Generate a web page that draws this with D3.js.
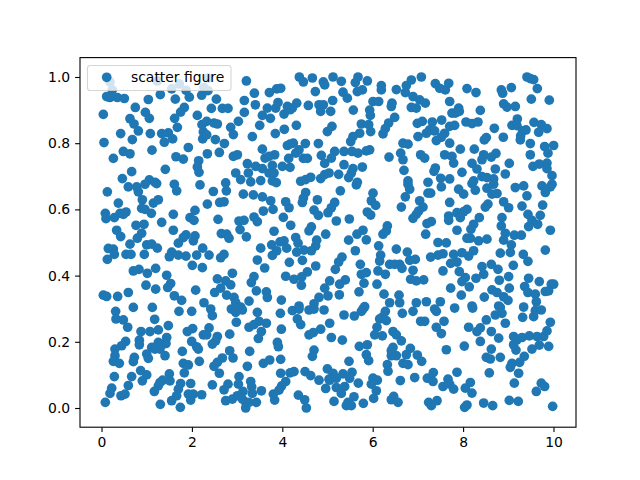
<!DOCTYPE html>
<html><head><meta charset="utf-8">
<script src="https://cdn.jsdelivr.net/npm/d3@7"></script>
<style>html,body{margin:0;padding:0;background:#fff}svg{display:block}</style>
</head><body><div id="chart"></div>
<script>
const legendLabel = "scatter figure";
const xTicks = [0,2,4,6,8,10];
const yTicks = [0,0.2,0.4,0.6,0.8,1.0];
const xDomain = [-0.476,10.498];
const yDomain = [-0.058,1.0586];
const topBand = [[.188,.985],[.239,.961],[1.235,.988],[1.722,.979],[1.552,.964],[1.869,.960],[2.267,.968],[.114,.941],[.188,.938],[.350,.938],[.505,.935],[1.036,.932],[1.301,.947],[1.633,.933],[1.943,.939],[2.216,.945],[.748,.908],[.970,.893],[1.058,.875],[.040,.887],[1.832,.908],[1.751,.894],[1.618,.875],[2.120,.884],[.630,.874],[.719,.858],[.815,.837],[.424,.829],[1.080,.829],[.682,.811],[1.331,.829],[1.478,.831],[1.574,.813],[1.390,.803],[1.678,.848],[2.223,.856],[2.253,.834],[2.238,.813],[.055,.802],[1.921,.787],[1.117,.779],[.483,.775],[.630,.768],[.262,.754],[1.648,.759],[1.810,.752],[2.150,.747],[2.120,.728],[2.157,.712],[1.412,.721],[.667,.714],[.461,.693],[1.058,.689],[1.183,.682],
[2.356,.997],[2.356,.959],[3.205,.988],[4.377,1.000],[4.466,.985],[4.665,.997],[4.908,.985],[4.938,.976],[4.731,.956],[3.382,.951],[3.714,.953],[3.876,.964],[3.964,.966],[2.541,.933],[3.160,.929],[3.404,.916],[3.905,.923],[3.669,.906],[3.854,.906],[3.559,.884],[3.736,.875],[4.038,.888],[4.112,.911],[4.222,.906],[4.318,.921],[4.171,.901],[2.430,.905],[2.674,.905],[2.799,.905],[3.160,.893],[4.576,.914],[4.812,.916],[4.908,.916],[4.849,.896],[3.028,.866],[2.327,.866],[2.489,.861],[2.563,.858],[2.858,.848],[2.917,.826],[3.500,.854],[3.846,.829],[4.045,.842],[4.311,.854],[3.337,.820],[4.997,.835],[2.327,.825],[2.519,.811],[2.718,.799],[4.171,.797],[4.112,.793],[4.244,.800],[4.510,.799],[4.798,.799],[3.559,.782],[4.370,.780],[4.296,.770],[2.342,.768],[2.607,.772],[2.917,.760],[3.006,.765],[3.831,.765],[3.618,.755],[3.706,.760],[4.864,.763],[4.466,.754],[4.554,.754],[4.141,.754],[3.227,.738],[3.411,.730],[3.559,.723],[3.780,.733],[4.001,.730],[4.171,.727],[4.938,.739],[2.969,.710],[3.249,.710],[3.706,.710],[3.817,.710],[3.079,.690],[2.747,.680],[3.301,.683],[3.522,.687],[3.780,.686],[4.407,.685],[4.517,.690],[4.628,.697],[4.849,.693],[4.938,.705],[5.034,.710],
[5.122,1.000],[5.306,.987],[5.675,1.000],[5.616,.983],[5.881,.988],[5.660,.956],[5.771,.961],[6.191,.974],[6.191,.961],[6.523,.962],[6.744,.974],[6.855,.991],[7.076,1.000],[7.386,.980],[7.482,.966],[7.607,.961],[7.681,.981],[6.722,.953],[5.343,.954],[5.439,.936],[5.114,.929],[6.892,.941],[7.039,.931],[7.164,.921],[7.703,.926],[6.007,.926],[6.132,.926],[6.427,.921],[6.412,.911],[6.855,.908],[6.965,.906],[5.070,.896],[5.571,.900],[5.933,.900],[5.948,.884],[7.754,.891],[6.486,.878],[6.353,.861],[6.279,.844],[6.228,.828],[6.987,.860],[7.098,.866],[7.319,.864],[7.526,.870],[5.099,.851],[5.749,.858],[5.911,.856],[5.955,.835],[5.712,.830],[5.564,.820],[5.513,.805],[7.260,.840],[7.371,.837],[7.002,.820],[7.187,.830],[7.592,.830],[7.519,.818],[7.408,.808],[7.703,.851],[6.670,.800],[6.781,.797],[7.703,.800],[7.061,.765],[7.150,.755],[6.619,.770],[6.670,.750],[6.361,.758],[5.159,.775],[5.085,.755],[5.365,.775],[5.542,.775],[5.675,.770],[5.859,.777],[5.933,.780],[7.592,.765],[7.754,.760],[5.365,.735],[5.564,.723],[5.771,.728],[5.468,.696],[5.247,.706],[6.692,.718],[7.386,.725],[7.356,.715],[6.781,.686],[7.504,.694],[7.703,.692],[5.660,.682],[7.224,.682],[5.527,.710],
[8.086,.965],[8.285,.953],[8.846,.961],[8.875,.951],[9.067,.968],[9.413,1.000],[9.487,.995],[9.561,.992],[9.642,.965],[9.509,.933],[9.907,.930],[8.897,.919],[8.971,.909],[9.155,.911],[7.902,.906],[7.828,.891],[7.916,.896],[8.381,.899],[9.200,.873],[9.082,.854],[9.192,.853],[9.317,.837],[9.391,.840],[9.273,.822],[9.266,.810],[8.064,.864],[8.197,.859],[8.329,.864],[7.813,.854],[8.691,.845],[8.514,.817],[8.469,.810],[8.890,.818],[9.568,.863],[9.730,.856],[9.856,.844],[9.672,.833],[9.487,.799],[9.804,.790],[10.003,.793],[7.938,.782],[8.248,.782],[9.487,.765],[9.878,.770],[8.455,.765],[8.418,.750],[8.624,.758],[8.727,.769],[7.791,.740],[9.022,.739],[8.197,.739],[8.307,.722],[8.713,.722],[9.546,.730],[9.686,.737],[9.856,.740],[9.856,.723],[9.967,.702],[7.975,.712],[8.934,.707],[8.418,.699],[8.528,.696],[8.676,.692],[8.233,.686]];
const middleBand = [[.593,.668],[.778,.668],[.815,.653],[.962,.676],[1.220,.678],[1.611,.676],[1.663,.656],[2.179,.674],[.129,.653],[.372,.619],[.903,.629],[1.147,.619],[1.257,.629],[.888,.603],[.962,.600],[1.102,.588],[1.589,.585],[2.068,.597],[1.958,.575],[2.046,.567],[.084,.588],[.099,.572],[.284,.575],[.409,.588],[.542,.592],[.483,.585],[1.331,.561],[.763,.552],[.940,.555],[.335,.537],[.424,.518],[1.589,.537],[.888,.528],[.793,.513],[1.869,.523],[2.068,.520],[2.032,.505],[1.810,.515],[1.700,.498],[.630,.495],[1.000,.493],[1.110,.495],[1.235,.483],[.151,.482],[.262,.480],[.284,.464],[.129,.449],[.542,.464],[.652,.464],[.947,.464],[1.552,.471],[1.501,.457],[1.700,.462],[1.869,.459],[2.105,.462],[2.238,.483],[2.009,.431],[2.231,.424],[.704,.414],[.829,.419],[1.014,.407],[1.198,.422],[1.442,.401],[1.530,.376],[1.464,.364],[.984,.371],[1.198,.359],[2.083,.356],[.593,.349],[.040,.341],[.114,.337],[.357,.337],[1.611,.339],[1.773,.325],[2.267,.318],
[2.762,.656],[2.474,.654],[3.138,.646],[3.359,.644],[3.559,.638],[3.743,.626],[3.795,.600],[3.581,.595],[4.075,.623],[4.149,.605],[4.517,.651],[4.466,.634],[4.444,.621],[4.776,.629],[4.702,.598],[4.798,.582],[2.342,.616],[2.615,.621],[2.711,.623],[4.023,.576],[4.186,.552],[2.578,.570],[3.042,.565],[3.153,.567],[3.374,.577],[3.448,.563],[3.065,.539],[3.817,.534],[4.643,.547],[4.591,.535],[4.960,.525],[2.651,.527],[2.770,.525],[2.821,.513],[3.205,.517],[4.296,.515],[4.348,.498],[4.038,.505],[3.950,.502],[3.765,.493],[4.761,.507],[4.739,.490],[4.643,.475],[4.480,.477],[4.318,.471],[3.522,.483],[3.876,.475],[3.780,.461],[4.097,.483],[2.379,.462],[2.710,.464],[2.637,.454],[3.448,.447],[3.610,.423],[4.444,.446],[4.156,.440],[4.739,.429],[2.895,.407],[4.554,.411],[4.075,.398],[4.259,.389],[4.429,.396],[4.422,.371],[3.374,.397],[3.315,.379],[2.563,.390],[2.747,.384],[2.858,.372],[2.637,.362],[2.504,.349],[3.426,.354],[3.647,.351],[3.669,.334],[2.769,.341],[2.932,.334],[2.969,.318],[3.264,.323],[3.979,.326],[4.938,.362],[5.011,.339],[4.812,.334],[4.702,.315],[4.370,.308],[3.079,.305],[3.868,.681],
[5.638,.674],[5.284,.656],[6.781,.676],[6.818,.661],[6.722,.638],[6.634,.607],[7.519,.668],[7.282,.649],[7.223,.649],[6.007,.649],[5.970,.626],[6.066,.612],[5.881,.592],[5.955,.583],[7.039,.626],[7.113,.607],[7.017,.595],[6.965,.585],[6.892,.573],[7.703,.621],[7.681,.580],[7.681,.567],[5.159,.621],[5.085,.605],[5.011,.590],[5.195,.565],[5.483,.571],[7.297,.563],[7.201,.557],[6.324,.550],[6.302,.535],[6.228,.525],[7.172,.525],[5.785,.537],[5.653,.525],[5.468,.507],[5.859,.508],[7.445,.500],[7.629,.499],[6.132,.490],[6.523,.480],[5.616,.475],[6.766,.471],[6.176,.462],[6.154,.444],[5.321,.456],[5.247,.441],[5.173,.419],[5.726,.434],[6.943,.449],[6.818,.446],[6.375,.434],[6.486,.434],[6.597,.434],[6.648,.422],[6.892,.416],[5.749,.404],[5.859,.409],[6.117,.414],[6.280,.404],[7.555,.414],[7.555,.466],[7.445,.462],[7.282,.456],[7.725,.437],[6.840,.389],[6.965,.384],[7.128,.387],[5.394,.387],[5.269,.374],[5.808,.377],[6.095,.374],[5.048,.384],[7.725,.362],[5.262,.342],[5.697,.351],[6.250,.344],[6.582,.341],[6.375,.318],[6.965,.318],[7.187,.321],[7.496,.321],[6.597,.318],
[8.197,.678],[7.902,.661],[8.012,.646],[8.270,.658],[8.528,.664],[8.676,.676],[8.639,.646],[8.750,.648],[8.550,.616],[8.491,.607],[9.155,.666],[9.340,.671],[9.745,.671],[9.967,.676],[9.930,.668],[9.819,.651],[8.897,.623],[9.008,.605],[9.413,.641],[9.303,.610],[9.760,.613],[9.435,.585],[9.708,.582],[8.086,.600],[8.012,.593],[7.865,.590],[7.938,.575],[8.860,.575],[8.845,.550],[8.359,.575],[8.233,.555],[8.174,.540],[7.865,.537],[9.524,.567],[9.649,.555],[9.450,.548],[9.930,.537],[8.934,.528],[9.133,.522],[9.288,.522],[8.086,.513],[8.160,.513],[8.344,.505],[8.528,.510],[8.897,.507],[9.067,.493],[9.045,.470],[8.823,.468],[9.819,.477],[9.332,.464],[9.435,.443],[8.233,.475],[8.123,.459],[7.975,.469],[7.791,.464],[7.865,.441],[9.111,.431],[8.624,.434],[8.772,.419],[8.418,.427],[8.455,.404],[7.916,.412],[8.285,.392],[8.049,.394],[7.975,.382],[8.801,.386],[9.008,.397],[9.450,.392],[9.686,.382],[9.952,.374],[10.003,.374],[9.893,.354],[9.362,.367],[9.435,.349],[9.598,.344],[9.620,.321],[8.137,.366],[8.639,.357],[8.750,.349],[9.022,.362],[8.897,.336],[8.993,.325],[8.469,.335],[7.960,.341],[8.197,.308],[8.787,.308],[9.340,.305],[9.819,.352]];
const bottomBand = [[.704,.304],[1.124,.304],[1.714,.292],[1.995,.292],[.313,.292],[.320,.269],[.483,.266],[.579,.244],[1.176,.268],[1.478,.249],[.874,.231],[1.073,.231],[1.257,.236],[2.017,.240],[1.899,.231],[2.253,.221],[.837,.205],[.837,.191],[.534,.201],[.446,.188],[.298,.178],[1.442,.213],[1.368,.193],[1.257,.198],[1.110,.183],[1.000,.163],[1.036,.150],[1.183,.178],[1.405,.158],[1.427,.195],[1.294,.178],[.298,.158],[.262,.141],[.394,.135],[.726,.153],[.704,.140],[1.995,.201],[2.105,.185],[2.142,.178],[1.788,.171],[2.164,.141],[1.810,.135],[1.921,.130],[.284,.095],[.667,.095],[.866,.113],[1.000,.100],[.903,.082],[1.832,.106],[1.501,.103],[1.294,.077],[1.257,.067],[1.353,.084],[1.515,.082],[.593,.068],[.225,.060],[.188,.044],[.431,.037],[.520,.042],[1.169,.050],[1.751,.074],[1.973,.074],[1.700,.057],[1.663,.037],[1.552,.022],[1.921,.042],[2.032,.042],[1.973,.024],[2.216,.040],[.084,.017],[1.301,.011],[1.744,.002],
[2.416,.299],[2.452,.279],[2.379,.242],[2.327,.221],[2.563,.216],[2.526,.203],[2.452,.193],[2.836,.223],[2.873,.299],[2.969,.289],[3.116,.296],[3.448,.289],[2.983,.259],[3.264,.244],[3.374,.252],[3.485,.262],[3.647,.256],[3.537,.231],[3.470,.210],[3.957,.286],[3.979,.238],[4.222,.294],[4.370,.299],[4.333,.269],[4.407,.252],[4.591,.296],[4.702,.299],[4.923,.296],[4.849,.238],[4.687,.228],[4.591,.221],[3.891,.198],[3.913,.185],[2.836,.173],[3.278,.171],[4.702,.175],[4.665,.156],[2.674,.151],[2.910,.151],[3.964,.147],[3.581,.135],[3.721,.145],[2.563,.138],[2.489,.126],[3.227,.126],[2.607,.105],[3.964,.105],[4.171,.106],[4.259,.110],[4.503,.110],[4.628,.098],[4.997,.118],[3.042,.095],[4.812,.084],[5.034,.087],[4.075,.080],[3.986,.067],[3.927,.054],[2.452,.070],[2.799,.072],[2.711,.055],[3.028,.072],[3.301,.080],[3.323,.064],[3.337,.044],[3.537,.052],[4.960,.059],[3.802,.042],[3.831,.024],[4.355,.039],[4.495,.025],[4.532,.000],[2.747,.022],[2.895,.027],[3.006,.037],[3.131,.050],[3.116,.027],[3.190,.017],[3.190,.000],[3.426,.017],[3.264,.017],
[5.785,.299],[5.822,.306],[5.749,.292],[5.365,.281],[5.594,.278],[5.048,.256],[6.280,.292],[6.228,.276],[6.154,.269],[6.302,.264],[6.095,.244],[6.044,.221],[6.213,.218],[6.656,.286],[6.892,.292],[7.371,.299],[7.408,.292],[7.061,.262],[7.150,.262],[7.578,.262],[7.408,.244],[7.519,.225],[6.449,.231],[6.523,.221],[6.634,.203],[5.085,.213],[5.328,.205],[5.704,.186],[5.881,.191],[5.859,.161],[5.911,.143],[6.449,.183],[6.412,.173],[6.523,.158],[6.412,.158],[6.833,.180],[6.744,.161],[6.987,.160],[7.083,.141],[7.629,.176],[5.476,.141],[6.324,.131],[6.339,.111],[6.670,.135],[6.781,.131],[5.122,.105],[5.343,.103],[5.542,.108],[5.195,.090],[5.490,.090],[5.048,.084],[6.929,.092],[6.611,.083],[6.007,.090],[6.102,.084],[5.970,.072],[6.080,.052],[6.021,.029],[5.682,.075],[7.341,.107],[7.209,.090],[7.334,.080],[7.666,.087],[7.555,.065],[7.703,.072],[5.195,.062],[5.380,.065],[5.306,.044],[5.586,.034],[5.453,.017],[5.417,.007],[5.527,.007],[5.144,.020],[5.793,.014],[6.464,.035],[6.412,.025],[6.560,.017],[7.423,.022],[7.238,.017],[7.297,.007],
[7.813,.302],[8.211,.302],[8.823,.304],[8.860,.286],[8.713,.281],[8.514,.266],[8.934,.256],[9.317,.274],[9.561,.276],[9.598,.294],[9.730,.296],[9.930,.259],[8.123,.244],[8.381,.242],[8.307,.231],[8.624,.231],[8.787,.211],[8.381,.201],[8.027,.187],[9.118,.216],[9.192,.206],[9.303,.213],[9.465,.218],[9.635,.216],[9.782,.216],[9.856,.233],[9.893,.186],[9.686,.190],[9.524,.178],[9.118,.191],[9.170,.175],[8.624,.178],[8.514,.153],[8.602,.148],[8.823,.153],[9.354,.156],[9.251,.138],[9.082,.135],[9.045,.123],[9.229,.105],[7.865,.108],[8.580,.106],[9.133,.075],[9.730,.075],[9.804,.065],[9.620,.050],[8.160,.077],[8.049,.060],[7.791,.057],[8.196,.045],[8.455,.015],[8.654,.007],[9.022,.023],[9.221,.020],[8.086,.009],[8.034,.002],[9.981,.005]];

const scatterFigure = topBand.concat(middleBand, bottomBand);
const W = 640, H = 480, FONT = "'DejaVu Sans', sans-serif", BLUE = "#1f77b4";
const L = 80, R = 576, T = 57.6, B = 427.2, MARKER_R = 4.85;
const x = d3.scaleLinear().domain(xDomain).range([L, R]);
const y = d3.scaleLinear().domain(yDomain).range([B, T]);
const svg = d3.select("#chart").append("svg").attr("width", W).attr("height", H);
svg.append("rect").attr("width", W).attr("height", H).attr("fill", "#fff");
svg.append("g").selectAll("circle").data(scatterFigure).join("circle")
  .attr("cx", d => x(d[0])).attr("cy", d => y(d[1])).attr("r", MARKER_R).attr("fill", BLUE);
const style = g => {
  g.select(".domain").remove();
  g.selectAll("line").attr("stroke", "#000").attr("stroke-width", 1.1);
  g.selectAll("text").attr("fill", "#000").attr("font-family", FONT).attr("font-size", 13.9);
};
svg.append("g").attr("transform", `translate(0,${B})`)
  .call(d3.axisBottom(x).tickValues(xTicks).tickFormat(d3.format("d")).tickSize(4.9).tickPadding(4.9)).call(style);
svg.append("g").attr("transform", `translate(${L},0)`)
  .call(d3.axisLeft(y).tickValues(yTicks).tickFormat(d3.format(".1f")).tickSize(4.9).tickPadding(4.9)).call(style);
svg.append("rect").attr("x", L).attr("y", T).attr("width", R - L).attr("height", B - T)
  .attr("fill", "none").attr("stroke", "#000").attr("stroke-width", 1.1);
const legend = svg.append("g");
legend.append("rect").attr("x", 87.5).attr("y", 65.5).attr("width", 143.5).attr("height", 25).attr("rx", 2.8)
  .attr("fill", "#fff").attr("fill-opacity", 0.8).attr("stroke", "#ccc").attr("stroke-opacity", 0.8).attr("stroke-width", 1.1);
legend.append("circle").attr("cx", 106.7).attr("cy", 77.3).attr("r", MARKER_R).attr("fill", BLUE);
legend.append("text").attr("x", 131).attr("y", 82.3).attr("font-family", FONT).attr("font-size", 13.9).attr("fill", "#000").text(legendLabel);
</script></body></html>
